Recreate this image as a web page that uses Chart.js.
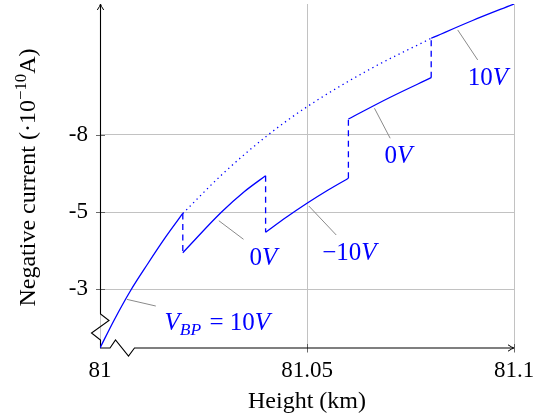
<!DOCTYPE html>
<html><head><meta charset="utf-8">
<script src="https://cdn.jsdelivr.net/npm/chart.js@4/dist/chart.umd.min.js"></script>
<style>html,body{margin:0;padding:0;background:#fff}canvas{display:block}</style>
</head><body>
<canvas id="c" width="536" height="416"></canvas>
<script>
// ---- tick labels ----
const xTicks = [81, 81.05, 81.1];
const xTickLabels = ['81', '81.05', '81.1'];
const yTicks = [1, 2, 3];
const yTickLabels = ['-3', '-5', '-8'];

// ---- series (height km, position on current axis) ----
const bp10aX = [81, 81.0034, 81.0074, 81.0115, 81.0155, 81.02];
const bp10aY = [0.234, 0.595, 0.981, 1.325, 1.647, 1.981];
const bp10dotX = [81.02, 81.0297, 81.0403, 81.05, 81.065, 81.08];
const bp10dotY = [1.981, 2.498, 2.988, 3.366, 3.849, 4.256];
const bp10bX = [81.08, 81.09, 81.1];
const bp10bY = [4.256, 4.487, 4.701];
const bp0aX = [81.02, 81.0293, 81.0349, 81.04];
const bp0aY = [1.471, 1.996, 2.266, 2.471];
const bpM10X = [81.04, 81.045, 81.05, 81.055, 81.06];
const bpM10Y = [1.736, 1.931, 2.113, 2.282, 2.438];
const bp0bX = [81.06, 81.07, 81.08];
const bp0bY = [3.208, 3.487, 3.744];

// ---- annotation texts and anchors on the curves ----
const annTexts = ['V_BP = 10V', '0V', '\u221210V', '0V', '10V'];
const annX = [81.00647, 81.0287, 81.05044, 81.0663, 81.0864];
const annY = [0.866, 1.887, 2.078, 3.347, 4.364];

const BLUE = '#0000ff';
const pts = (xs, ys) => xs.map((x, i) => ({x, y: ys[i]}));
const solid = (xs, ys) => ({data: pts(xs, ys), showLine: true, borderColor: BLUE, borderWidth: 1.3,
  pointRadius: 0, cubicInterpolationMode: 'monotone', fill: false});
const dashed = (x, y0, y1) => ({data: [{x, y: y0}, {x, y: y1}], showLine: true, borderColor: BLUE,
  borderWidth: 1.3, borderDash: [6, 4.5], pointRadius: 0, tension: 0, fill: false});

const datasets = [
  solid(bp10aX, bp10aY),
  Object.assign(solid(bp10dotX, bp10dotY), {borderDash: [1.3, 3.6], borderWidth: 1.3}),
  solid(bp10bX, bp10bY),
  solid(bp0aX, bp0aY),
  solid(bpM10X, bpM10Y),
  solid(bp0bX, bp0bY),
  dashed(bp10aX[bp10aX.length - 1], bp10aY[bp10aY.length - 1], bp0aY[0]),
  dashed(bp0aX[bp0aX.length - 1], bp0aY[bp0aY.length - 1], bpM10Y[0]),
  dashed(bpM10X[bpM10X.length - 1], bpM10Y[bpM10Y.length - 1], bp0bY[0]),
  dashed(bp0bX[bp0bX.length - 1], bp0bY[bp0bY.length - 1], bp10bY[0])
];

const SERIF = '"Liberation Serif", "Times New Roman", serif';

// annotation styling: pin end offset and label (left, baseline) offset in px
const annStyle = [
  {pin: [29, 6.7], lab: [37.7, 30.7]},
  {pin: [24.7, 18.6], lab: [30.7, 44.3]},
  {pin: [27.4, 29], lab: [13.4, 54]},
  {pin: [15.7, 30], lab: [10, 55]},
  {pin: [20, 30], lab: [10, 55]}
];

function runsFor(t) {
  if (t.startsWith('V_BP')) {
    return [{t: 'V', it: true}, {t: 'BP', it: true, sub: true}, {t: ' = 10', it: false}, {t: 'V', it: true}];
  }
  return [{t: t.slice(0, -1), it: false}, {t: 'V', it: true}];
}
function drawRuns(ctx, x, base, runs, size) {
  ctx.textBaseline = 'alphabetic';
  ctx.textAlign = 'left';
  for (const r of runs) {
    const s = (r.sub || r.sup) ? size * 0.7 : size;
    ctx.font = (r.it ? 'italic ' : '') + s + 'px ' + SERIF;
    const dy = r.sub ? size * 0.2 : (r.sup ? -size * 0.38 : 0);
    ctx.fillText(r.t, x, base + dy);
    x += ctx.measureText(r.t).width + (r.sub ? 2 : 0);
  }
}
function runsWidth(ctx, runs, size) {
  let w = 0;
  for (const r of runs) {
    const s = (r.sub || r.sup) ? size * 0.7 : size;
    ctx.font = (r.it ? 'italic ' : '') + s + 'px ' + SERIF;
    w += ctx.measureText(r.t).width;
  }
  return w;
}

const deco = {
  id: 'deco',
  beforeDatasetsDraw(chart) {
    const ctx = chart.ctx, a = chart.chartArea;
    const xs = chart.scales.x, ys = chart.scales.y;
    const L = a.left, B = a.bottom, T = a.top, R = a.right;
    ctx.save();
    // tick marks crossing the axes
    ctx.strokeStyle = '#444';
    ctx.lineWidth = 0.8;
    for (const v of yTicks) {
      const p = Math.round(ys.getPixelForValue(v)) + 0.5;
      ctx.beginPath(); ctx.moveTo(L - 4, p); ctx.lineTo(L + 5, p); ctx.stroke();
    }
    for (const v of xTicks.slice(1)) {
      const p = Math.round(xs.getPixelForValue(v)) + 0.5;
      ctx.beginPath(); ctx.moveTo(p, B - 4); ctx.lineTo(p, B + 4.5); ctx.stroke();
    }
    // axis lines with breaks and arrows
    ctx.strokeStyle = '#000';
    ctx.lineWidth = 1.1;
    ctx.lineJoin = 'miter';
    const l = L + 0.5;
    ctx.beginPath();
    ctx.moveTo(l, T + 1);
    ctx.lineTo(l, B - 34);
    ctx.lineTo(l + 8.5, B - 27.5);
    ctx.lineTo(l - 9, B - 15);
    ctx.lineTo(l, B - 8);
    ctx.lineTo(l, B);
    ctx.lineTo(l + 9.5, B);
    ctx.lineTo(l + 15, B - 8);
    ctx.lineTo(l + 28, B + 8);
    ctx.lineTo(l + 34, B);
    ctx.lineTo(R - 1, B);
    ctx.stroke();
    // arrow heads
    ctx.lineWidth = 1;
    ctx.beginPath();
    ctx.moveTo(l - 3.2, T + 6); ctx.quadraticCurveTo(l - 0.5, T + 2, l, T); ctx.quadraticCurveTo(l + 0.5, T + 2, l + 3.2, T + 6);
    ctx.stroke();
    ctx.beginPath();
    ctx.moveTo(R - 6, B - 3.2); ctx.quadraticCurveTo(R - 2, B - 0.5, R, B); ctx.quadraticCurveTo(R - 2, B + 0.5, R - 6, B + 3.2);
    ctx.stroke();
    ctx.restore();
  },
  afterDatasetsDraw(chart) {
    const ctx = chart.ctx;
    const xs = chart.scales.x, ys = chart.scales.y;
    ctx.save();
    for (let i = 0; i < annTexts.length; i++) {
      const px = xs.getPixelForValue(annX[i]), py = ys.getPixelForValue(annY[i]);
      const st = annStyle[i];
      ctx.strokeStyle = '#8a8a8a';
      ctx.lineWidth = 1;
      ctx.beginPath(); ctx.moveTo(px, py); ctx.lineTo(px + st.pin[0], py + st.pin[1]); ctx.stroke();
      ctx.fillStyle = BLUE;
      drawRuns(ctx, px + st.lab[0], py + st.lab[1], runsFor(annTexts[i]), 25);
    }
    // y axis title with superscript
    const runs = [{t: 'Negative current (\u00b710', it: false}, {t: '\u221210', it: false, sup: true}, {t: 'A)', it: false}];
    const size = 24;
    const w = runsWidth(ctx, runs, size);
    ctx.fillStyle = '#000';
    ctx.translate(35, 177.5);
    ctx.rotate(-Math.PI / 2);
    drawRuns(ctx, -w / 2, 0, runs, size);
    ctx.restore();
  }
};

const zeroPad = s => { s.paddingLeft = 0; s.paddingRight = 0; s.paddingTop = 0; s.paddingBottom = 0; };

new Chart(document.getElementById('c'), {
  type: 'scatter',
  data: {datasets},
  options: {
    responsive: false,
    animation: false,
    devicePixelRatio: 1,
    layout: {padding: {left: 0, right: 22, top: 4, bottom: 0}},
    plugins: {legend: {display: false}, tooltip: {enabled: false}},
    scales: {
      x: {
        type: 'linear', min: 81, max: 81.1, position: 'bottom',
        afterBuildTicks: s => { s.ticks = xTicks.map(v => ({value: v})); },
        afterFit: s => { s.height = 68; zeroPad(s); },
        border: {display: false},
        grid: {color: '#c2c2c2', lineWidth: 1, drawTicks: false},
        ticks: {padding: 9, color: '#000', font: {family: SERIF, size: 23}, maxRotation: 0, autoSkip: false,
          callback: (v, i) => xTickLabels[i]},
        title: {display: true, text: 'Height (km)', color: '#000', font: {family: SERIF, size: 24},
          padding: {top: 0, bottom: 0}}
      },
      y: {
        type: 'linear', min: 0.234, max: 4.701,
        afterBuildTicks: s => { s.ticks = yTicks.map(v => ({value: v})); },
        afterFit: s => { s.width = 100; zeroPad(s); },
        border: {display: false},
        grid: {color: '#c2c2c2', lineWidth: 1, drawTicks: false},
        ticks: {padding: 12, color: '#000', font: {family: SERIF, size: 23}, autoSkip: false,
          callback: (v, i) => yTickLabels[i]}
      }
    }
  },
  plugins: [deco]
});
</script>
</body></html>
